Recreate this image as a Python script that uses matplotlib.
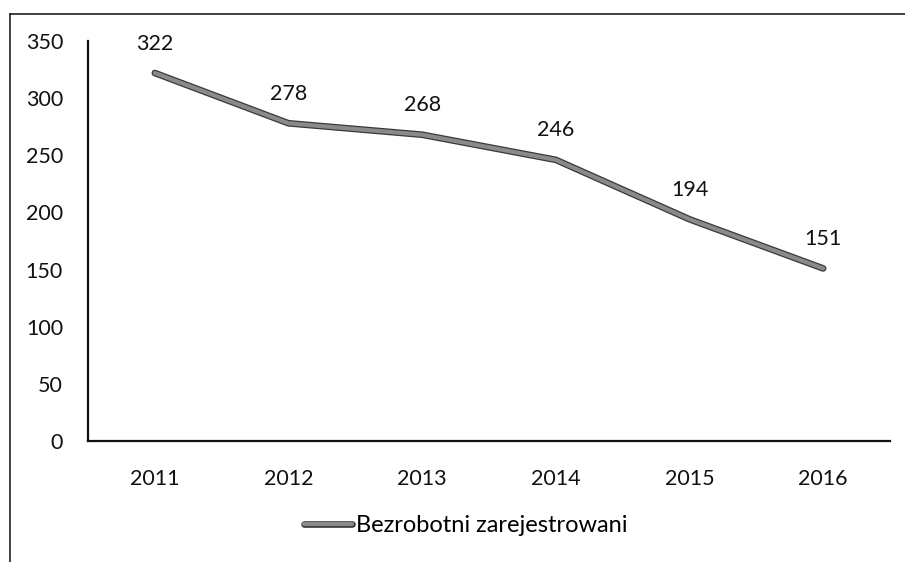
import matplotlib
matplotlib.use("Agg")
import matplotlib.pyplot as plt
import matplotlib.patheffects as pe
from matplotlib.lines import Line2D

years = ["2011", "2012", "2013", "2014", "2015", "2016"]
values = [322, 278, 268, 246, 194, 151]
series_name = "Bezrobotni zarejestrowani"
yticks = [0, 50, 100, 150, 200, 250, 300, 350]

plt.rcParams['font.family'] = ['Lato', 'DejaVu Sans']

fig = plt.figure(figsize=(9.05, 5.62), dpi=100)
ax = fig.add_axes([88/905, 1-441/562, (890-88)/905, (441-41)/562])

x = list(range(len(years)))
line, = ax.plot(x, values, color="#8a8a8a", lw=3.0, solid_capstyle="round",
                path_effects=[pe.Stroke(linewidth=4.8, foreground="#3a3a3a"), pe.Normal()],
                label=series_name)
for xi, v in zip(x, values):
    ax.annotate(str(v), (xi, v), xytext=(0, 14), textcoords="offset points",
                ha="center", va="bottom", fontsize=15.5, color="#111111")

ax.set_xlim(-0.5, len(years) - 0.5)
ax.set_ylim(0, 350)
ax.set_yticks(yticks)
ax.set_xticks(x)
ax.set_xticklabels(years)
ax.tick_params(axis="both", length=0, labelsize=15.5, colors="#111111")
ax.tick_params(axis="y", pad=18)
ax.tick_params(axis="x", pad=20)
for s in ["top", "right"]:
    ax.spines[s].set_visible(False)
for s in ["left", "bottom"]:
    ax.spines[s].set_linewidth(1.6)
    ax.spines[s].set_color("#111111")

leg = fig.legend(handles=[line], loc="center", bbox_to_anchor=(466/905, 1-526/562),
                 frameon=False, fontsize=17, handlelength=2.0, handletextpad=0.2)

fig.add_artist(Line2D([10/905, 10/905], [0, 1-14/562], transform=fig.transFigure,
                      color="#222222", lw=1.2))
fig.add_artist(Line2D([10/905, 1], [1-14/562, 1-14/562], transform=fig.transFigure,
                      color="#222222", lw=1.2))

fig.savefig("out.png", dpi=100)
